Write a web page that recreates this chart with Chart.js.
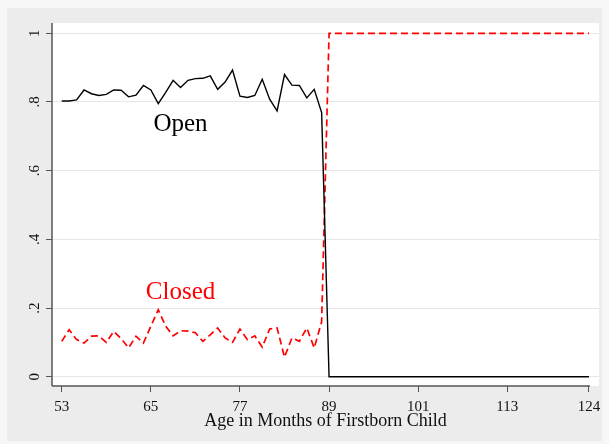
<!DOCTYPE html>
<html>
<head>
<meta charset="utf-8">
<script src="https://cdn.jsdelivr.net/npm/chart.js@4.4.1/dist/chart.umd.min.js"></script>
<style>
  html, body { margin: 0; padding: 0; background: #f7f7f7; }
  #wrap { position: absolute; left: 0; top: 0; width: 609px; height: 444px; }
</style>
</head>
<body>
<div id="wrap"><canvas id="chart" width="609" height="444"></canvas></div>
<script>
// Age in months (x) and share of each group
const months = [53, 54, 55, 56, 57, 58, 59, 60, 61, 62, 63, 64, 65, 66, 67, 68, 69, 70,
  71, 72, 73, 74, 75, 76, 77, 78, 79, 80, 81, 82, 83, 84, 85, 86, 87, 88,
  89, 90, 91, 92, 93, 94, 95, 96, 97, 98, 99, 100, 101, 102, 103, 104, 105, 106,
  107, 108, 109, 110, 111, 112, 113, 114, 115, 116, 117, 118, 119, 120, 121, 122, 123, 124];

const openValues = [0.803, 0.803, 0.806, 0.835, 0.824, 0.819, 0.822, 0.835, 0.834, 0.815, 0.82, 0.848,
  0.835, 0.795, 0.828, 0.863, 0.842, 0.863, 0.868, 0.869, 0.876, 0.837, 0.858, 0.893,
  0.817, 0.813, 0.819, 0.866, 0.808, 0.774, 0.88, 0.849, 0.848, 0.812, 0.837, 0.769,
  0, 0, 0, 0, 0, 0, 0, 0, 0, 0, 0, 0, 0, 0, 0, 0, 0, 0,
  0, 0, 0, 0, 0, 0, 0, 0, 0, 0, 0, 0, 0, 0, 0, 0, 0, 0];

const closedValues = [0.103, 0.137, 0.108, 0.098, 0.118, 0.119, 0.1, 0.132, 0.111, 0.084, 0.118, 0.098,
  0.147, 0.195, 0.147, 0.119, 0.134, 0.133, 0.128, 0.103, 0.122, 0.142, 0.113, 0.1,
  0.139, 0.108, 0.119, 0.086, 0.139, 0.142, 0.057, 0.113, 0.103, 0.142, 0.084, 0.16,
  1, 1, 1, 1, 1, 1, 1, 1, 1, 1, 1, 1, 1, 1, 1, 1, 1, 1,
  1, 1, 1, 1, 1, 1, 1, 1, 1, 1, 1, 1, 1, 1, 1, 1, 1, 1];

const xTicks = [53, 65, 77, 89, 101, 113, 124];
const yTicks = [0, 0.2, 0.4, 0.6, 0.8, 1];
const yTickLabels = ['0', '.2', '.4', '.6', '.8', '1'];

// series labels placed in data space
const seriesLabels = [
  { text: 'Open', x: 69, y: 0.735, color: '#000000' },
  { text: 'Closed', x: 69, y: 0.245, color: '#ff0000' }
];

const serif = '"Liberation Serif", "DejaVu Serif", serif';

const frame = {
  id: 'frame',
  beforeDraw(chart) {
    const { ctx, chartArea: a, width, height } = chart;
    ctx.save();
    ctx.fillStyle = '#f7f7f7';
    ctx.fillRect(0, 0, width, height);
    ctx.fillStyle = '#ececec';
    ctx.fillRect(7, 8, width - 14, height - 11);
    ctx.fillStyle = '#ffffff';
    ctx.fillRect(a.left, a.top, a.right - a.left, a.bottom - a.top);
    ctx.restore();
  },
  afterDraw(chart) {
    const { ctx, chartArea: a, scales } = chart;
    ctx.save();
    ctx.strokeStyle = '#555555';
    ctx.lineWidth = 1.5;
    ctx.beginPath();
    ctx.moveTo(a.left, a.bottom);
    ctx.lineTo(scales.x.getPixelForValue(xTicks[xTicks.length - 1]) + 1, a.bottom);
    ctx.moveTo(a.left, a.top);
    ctx.lineTo(a.left, a.bottom);
    ctx.stroke();

    // rotated y tick labels, centred on their ticks
    ctx.fillStyle = '#111111';
    ctx.font = '15px ' + serif;
    ctx.textAlign = 'center';
    ctx.textBaseline = 'middle';
    yTicks.forEach((v, i) => {
      ctx.save();
      ctx.translate(a.left - 17, scales.y.getPixelForValue(v));
      ctx.rotate(-Math.PI / 2);
      ctx.fillText(yTickLabels[i], 0, 0);
      ctx.restore();
    });

    ctx.font = '25px ' + serif;
    seriesLabels.forEach(l => {
      ctx.fillStyle = l.color;
      ctx.fillText(l.text, scales.x.getPixelForValue(l.x), scales.y.getPixelForValue(l.y));
    });
    ctx.restore();
  }
};

new Chart(document.getElementById('chart'), {
  type: 'line',
  data: {
    datasets: [
      {
        label: 'Open',
        data: months.map((m, i) => ({ x: m, y: openValues[i] })),
        borderColor: '#000000',
        borderWidth: 1.4,
        pointRadius: 0,
        tension: 0
      },
      {
        label: 'Closed',
        data: months.map((m, i) => ({ x: m, y: closedValues[i] })),
        borderColor: '#ff0000',
        borderWidth: 1.7,
        borderDash: [7, 4],
        pointRadius: 0,
        tension: 0
      }
    ]
  },
  options: {
    responsive: false,
    animation: false,
    layout: { padding: { top: 23, right: 10, left: 0, bottom: 0 } },
    plugins: { legend: { display: false }, tooltip: { enabled: false } },
    scales: {
      x: {
        type: 'linear',
        min: 51.69,
        max: 125.35,
        afterBuildTicks: s => { s.ticks = xTicks.map(v => ({ value: v })); },
        afterFit: s => { s.height = 58; },
        border: { display: false },
        grid: { drawOnChartArea: false, tickLength: 6, tickColor: '#555555', tickWidth: 1 },
        ticks: {
          maxRotation: 0,
          autoSkip: false,
          color: '#111111',
          padding: 6,
          font: { family: serif, size: 15 }
        },
        title: {
          display: true,
          text: 'Age in Months of Firstborn Child',
          color: '#111111',
          font: { family: serif, size: 18 },
          padding: { top: 0, bottom: 12 }
        }
      },
      y: {
        type: 'linear',
        min: -0.027,
        max: 1.03,
        afterBuildTicks: s => { s.ticks = yTicks.map(v => ({ value: v })); },
        afterFit: s => { s.width = 52; },
        border: { display: false },
        grid: { color: '#e6e6e6', lineWidth: 1, tickLength: 6, tickColor: '#555555' },
        ticks: {
          color: 'rgba(0,0,0,0)',
          font: { family: serif, size: 15 },
          callback: () => ''
        }
      }
    }
  },
  plugins: [frame]
});
</script>
</body>
</html>
